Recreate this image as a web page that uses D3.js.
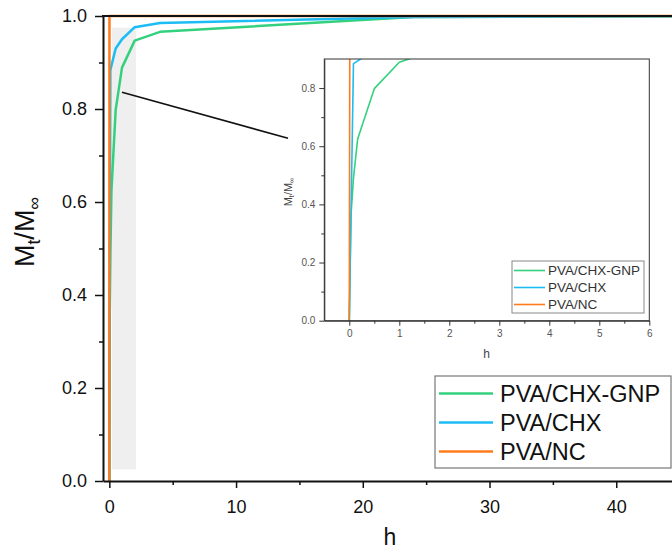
<!DOCTYPE html>
<html lang="en">
<head>
<meta charset="UTF-8">
<title>Mt/M∞ release</title>
<script src="https://d3js.org/d3.v7.min.js"></script>
<style>
  body { margin: 0; background: #fff; }
  svg { display: block; font-family: "Liberation Sans", Arial, sans-serif; }
  .axis path, .axis line { stroke: #111; }
  .axis text { fill: #111; }
  .inset .axis path, .inset .axis line { stroke: #333; }
  .inset .axis text { fill: #555; }
</style>
</head>
<body>
<svg width="672" height="552"></svg>
<script>
// series (hours, Mt/M∞)
const names = ["PVA/CHX-GNP", "PVA/CHX", "PVA/NC"];
const colors = ["#33d17d", "#1cbcf5", "#ff7b1c"];
const gnp = [[0, 0], [0.033, 0.36], [0.083, 0.49], [0.167, 0.625], [0.5, 0.798], [1, 0.889], [2, 0.947], [4, 0.966], [24, 0.998], [48, 1.0]];
const chx = [[0, 0], [0.083, 0.884], [0.5, 0.93], [1, 0.95], [2, 0.976], [4, 0.985], [24, 0.998], [48, 1.0]];
const nc = [[0, 0], [0.01, 1.0], [48, 1.0]];
const series = [gnp, chx, nc];

const xTicks = [0, 10, 20, 30, 40];
const xMinor = [5, 15, 25, 35];
const yTicks = [0, 0.2, 0.4, 0.6, 0.8, 1.0];
const yMinor = [0.1, 0.3, 0.5, 0.7, 0.9];
const insetXTicks = [0, 1, 2, 3, 4, 5, 6];
const insetXMinor = [0.5, 1.5, 2.5, 3.5, 4.5, 5.5];
const insetYTicks = [0, 0.2, 0.4, 0.6, 0.8];
const insetYMinor = [0.1, 0.3, 0.5, 0.7];

// zoomed region and connector (data units of the main plot)
const shade = { x0: 0.2, x1: 2.1, y0: 0.025, y1: 0.975 };
const connector = [[1.0, 0.836], [14.1, 0.737]];

const svg = d3.select("svg");

// main plot
const x = d3.scaleLinear([-0.5, 44.4], [103, 672]);
const y = d3.scaleLinear([0, 1], [481, 16]);

svg.append("defs").append("clipPath").attr("id", "mainClip")
  .append("rect").attr("x", 103).attr("y", 14).attr("width", 569).attr("height", 468);

svg.append("rect")
  .attr("x", x(shade.x0)).attr("y", y(shade.y1))
  .attr("width", x(shade.x1) - x(shade.x0)).attr("height", y(shade.y0) - y(shade.y1))
  .attr("fill", "#efefef");

const line = d3.line().x(d => x(d[0])).y(d => y(d[1]));
const gMain = svg.append("g").attr("clip-path", "url(#mainClip)");
gMain.selectAll("path").data(series).join("path")
  .attr("d", line).attr("fill", "none")
  .attr("stroke", (d, i) => colors[i]).attr("stroke-width", 2.5)
  .attr("stroke-linejoin", "round");

// axes
const fmt = d3.format(".1f");
const intFmt = d3.format("d");
svg.append("g").attr("class", "axis").attr("transform", "translate(0,481)")
  .call(d3.axisBottom(x).tickValues(xMinor).tickSize(4).tickFormat(""))
  .call(g => g.select(".domain").remove())
  .selectAll("line").attr("stroke-width", 1.5);
svg.append("g").attr("class", "axis").attr("transform", "translate(0,481)")
  .call(d3.axisBottom(x).tickValues(xTicks).tickSize(7).tickPadding(12).tickSizeOuter(0).tickFormat(intFmt))
  .call(g => g.selectAll("line").attr("stroke-width", 1.5))
  .call(g => g.select(".domain").attr("stroke-width", 2))
  .selectAll("text").attr("font-size", 18);

svg.append("g").attr("class", "axis").attr("transform", "translate(103,0)")
  .call(d3.axisLeft(y).tickValues(yMinor).tickSize(4).tickFormat(""))
  .call(g => g.select(".domain").remove())
  .selectAll("line").attr("stroke-width", 1.5);
svg.append("g").attr("class", "axis").attr("transform", "translate(103,0)")
  .call(d3.axisLeft(y).tickValues(yTicks).tickSize(8).tickPadding(8).tickSizeOuter(0).tickFormat(fmt))
  .call(g => g.selectAll("line").attr("stroke-width", 1.5))
  .call(g => g.select(".domain").attr("stroke-width", 2))
  .selectAll("text").attr("font-size", 18);

// top frame
svg.append("line").attr("x1", 102).attr("x2", 672).attr("y1", y(1)).attr("y2", y(1))
  .attr("stroke", "#111").attr("stroke-width", 2);

// axis titles
svg.append("text").attr("x", 390).attr("y", 545).attr("text-anchor", "middle")
  .attr("font-size", 23).attr("fill", "#111").text("h");

function ratioLabel(sel, size) {
  sel.append("tspan").text("M");
  sel.append("tspan").attr("font-size", size * 0.66).attr("dy", size * 0.22).text("t");
  sel.append("tspan").attr("dy", -size * 0.22).text("/M");
  sel.append("tspan").attr("font-size", size * 0.66).attr("dy", size * 0.22).text("∞");
}
svg.append("text").attr("transform", "translate(34,232) rotate(-90)")
  .attr("text-anchor", "middle").attr("font-size", 27).attr("fill", "#111")
  .call(ratioLabel, 27);

// connector line
svg.append("line")
  .attr("x1", x(connector[0][0])).attr("y1", y(connector[0][1]))
  .attr("x2", x(connector[1][0])).attr("y2", y(connector[1][1]))
  .attr("stroke", "#111").attr("stroke-width", 1.6);

// main legend
const leg = svg.append("g").attr("transform", "translate(435,376)");
leg.append("rect").attr("width", 236).attr("height", 92)
  .attr("fill", "#fff").attr("stroke", "#777").attr("stroke-width", 1.2);
names.forEach((n, i) => {
  const row = leg.append("g").attr("transform", `translate(0,${17.5 + i * 29})`);
  row.append("line").attr("x1", 4).attr("x2", 58).attr("stroke", colors[i]).attr("stroke-width", 2.5);
  row.append("text").attr("x", 65).attr("dy", "0.36em").attr("font-size", 23.5).attr("fill", "#111").text(n);
});

// inset
const xi = d3.scaleLinear([-0.5, 6], [324.3, 649.3]);
const yi = d3.scaleLinear([0, 0.9], [320.7, 59]);
const inset = svg.append("g").attr("class", "inset");

inset.append("rect").attr("x", 324.3).attr("y", 59).attr("width", 325).attr("height", 261.7).attr("fill", "#fff");
svg.select("defs").append("clipPath").attr("id", "insetClip")
  .append("rect").attr("x", 324.3).attr("y", 59).attr("width", 325).attr("height", 261.7);

const lineI = d3.line().x(d => xi(d[0])).y(d => yi(d[1]));
inset.append("g").attr("clip-path", "url(#insetClip)")
  .selectAll("path").data(series).join("path")
  .attr("d", lineI).attr("fill", "none")
  .attr("stroke", (d, i) => colors[i]).attr("stroke-width", 1.6)
  .attr("stroke-linejoin", "round");

inset.append("g").attr("class", "axis").attr("transform", "translate(0,320.7)")
  .call(d3.axisBottom(xi).tickValues(insetXMinor).tickSize(3).tickFormat(""))
  .call(g => g.select(".domain").remove());
inset.append("g").attr("class", "axis").attr("transform", "translate(0,320.7)")
  .call(d3.axisBottom(xi).tickValues(insetXTicks).tickSize(5).tickPadding(4).tickSizeOuter(0).tickFormat(intFmt))
  .selectAll("text").attr("font-size", 10);
inset.append("g").attr("class", "axis").attr("transform", "translate(324.3,0)")
  .call(d3.axisLeft(yi).tickValues(insetYMinor).tickSize(3).tickFormat(""))
  .call(g => g.select(".domain").remove());
inset.append("g").attr("class", "axis").attr("transform", "translate(324.3,0)")
  .call(d3.axisLeft(yi).tickValues(insetYTicks).tickSize(5).tickPadding(4).tickSizeOuter(0).tickFormat(fmt))
  .selectAll("text").attr("font-size", 10);

inset.append("rect").attr("x", 324.3).attr("y", 59).attr("width", 325).attr("height", 261.7)
  .attr("fill", "none").attr("stroke", "#333").attr("stroke-width", 1);

inset.append("text").attr("x", 486.7).attr("y", 358).attr("text-anchor", "middle")
  .attr("font-size", 12).attr("fill", "#444").text("h");
inset.append("text").attr("transform", "translate(292,192) rotate(-90)")
  .attr("text-anchor", "middle").attr("font-size", 11).attr("fill", "#444")
  .call(ratioLabel, 11);

const legI = inset.append("g").attr("transform", "translate(512,261)");
legI.append("rect").attr("width", 132).attr("height", 52)
  .attr("fill", "#fff").attr("stroke", "#888").attr("stroke-width", 1);
names.forEach((n, i) => {
  const row = legI.append("g").attr("transform", `translate(0,${9.5 + i * 17})`);
  row.append("line").attr("x1", 2).attr("x2", 33).attr("stroke", colors[i]).attr("stroke-width", 1.6);
  row.append("text").attr("x", 36).attr("dy", "0.36em").attr("font-size", 13.5).attr("fill", "#333").text(n);
});
</script>
</body>
</html>
